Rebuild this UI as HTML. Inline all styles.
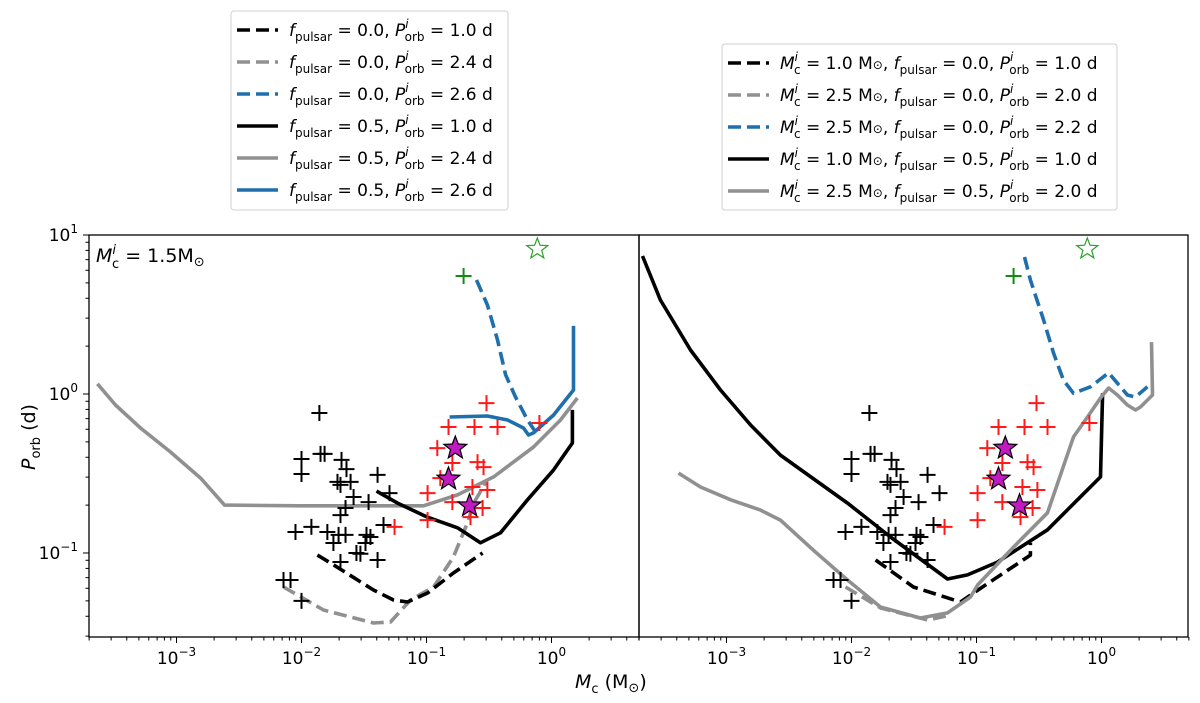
<!DOCTYPE html>
<html><head><meta charset="utf-8">
<style>
html,body{margin:0;padding:0;background:#fff;}
svg{display:block;font-family:"DejaVu Sans","Liberation Sans",sans-serif;}
</style></head>
<body>
<svg id="fig" width="1200" height="703" viewBox="0 0 1200 703" xmlns="http://www.w3.org/2000/svg">
<defs>
<clipPath id="clipL"><rect x="89" y="235" width="550" height="402"/></clipPath>
<clipPath id="clipR"><rect x="639" y="235" width="549" height="402"/></clipPath>
</defs>
<g id="panelL"></g>
<g id="panelR"></g>
<rect x="89" y="235" width="550" height="402" fill="none" stroke="#000" stroke-width="1.3"/>
<rect x="639" y="235" width="549" height="402" fill="none" stroke="#000" stroke-width="1.3"/>
<g id="axes"></g>
<text x="96" y="262" font-size="19"><tspan font-style="italic">M</tspan><tspan font-size="13" dy="-8" font-style="italic">i</tspan><tspan font-size="13" dx="-4" dy="14">c</tspan><tspan dy="-6"> = 1.5M</tspan><tspan font-size="13" dy="4">⊙</tspan></text>
<text x="575" y="688" font-size="19"><tspan font-style="italic">M</tspan><tspan font-size="13" dy="5">c</tspan><tspan dy="-5"> (M</tspan><tspan font-size="13" dy="4">⊙</tspan><tspan dy="-4">)</tspan></text>
<text transform="translate(35,470) rotate(-90)" font-size="19"><tspan font-style="italic">P</tspan><tspan font-size="13" dy="5">orb</tspan><tspan dy="-5"> (d)</tspan></text>
<g id="legendL"></g>
<g id="legendR"></g>
</svg>
<script>
// ---- data (Mc in Msun, Porb in days) ----
const blackObsM=[0.0139,0.010,0.010,0.0142,0.0153,0.0209,0.0229,0.0194,0.0247,0.0205,0.0406,0.0261,0.0344,0.0506,0.0225,0.0205,0.00895,0.012,0.0161,0.0198,0.0225,0.018,0.0331,0.0356,0.0325,0.0453,0.0275,0.0296,0.0406,0.0205,0.00718,0.00817,0.010];
const blackObsP=[0.76,0.39,0.314,0.42,0.42,0.385,0.337,0.28,0.28,0.268,0.31,0.225,0.209,0.238,0.192,0.173,0.1355,0.146,0.1355,0.13,0.13,0.1156,0.13,0.126,0.1156,0.15,0.1,0.099,0.0904,0.0878,0.0676,0.0676,0.05];
const redObsM=[0.302,0.15,0.242,0.37,0.80,0.122,0.161,0.256,0.286,0.129,0.102,0.233,0.307,0.161,0.102,0.0555,0.225,0.281];
const redObsP=[0.877,0.62,0.62,0.62,0.657,0.457,0.368,0.373,0.347,0.296,0.238,0.26,0.249,0.209,0.161,0.146,0.168,0.192];
const starM=[0.17,0.15,0.221];
const starP=[0.457,0.292,0.198];
const greenCrossM=[0.198], greenCrossP=[5.52];
const openStarM=[0.77], openStarP=[8.17];

// left panel tracks
const L_greySolidM=[2.33e-4,3.25e-4,5.15e-4,8.95e-4,1.56e-3,2.42e-3,9.8e-3,0.0946,0.177,0.344,0.718,1.18,1.61];
const L_greySolidP=[1.16,0.853,0.611,0.432,0.296,0.2,0.198,0.198,0.232,0.301,0.464,0.686,0.944];
const L_blackSolidM=[0.0398,0.0586,0.102,0.177,0.27,0.391,0.643,1.04,1.47,1.47];
const L_blackSolidP=[0.245,0.206,0.168,0.144,0.116,0.134,0.216,0.333,0.492,0.794];
const L_blackDashM=[0.0134,0.0171,0.0377,0.0545,0.0705,0.102,0.164,0.281];
const L_blackDashP=[0.097,0.0865,0.0585,0.0506,0.0492,0.056,0.0748,0.1];
const L_greyDashM=[0.00718,0.015,0.0377,0.0515,0.0745,0.114,0.164,0.213,0.238,0.307];
const L_greyDashP=[0.0611,0.0438,0.0363,0.0368,0.0506,0.0611,0.0944,0.155,0.206,0.288];
const L_blueSolidM=[0.153,0.307,0.445,0.597,0.655,0.718,1.04,1.5,1.5];
const L_blueSolidP=[0.717,0.727,0.686,0.611,0.552,0.569,0.738,1.06,2.68];
const L_blueDashM=[0.251,0.307,0.37,0.429,0.515,0.643,0.745];
const L_blueDashP=[5.21,3.63,2.19,1.32,0.957,0.686,0.577];

// right panel tracks
const R_blackSolidM=[2.13e-4,2.96e-4,5.15e-4,8.95e-4,1.56e-3,2.7e-3,9.29e-3,0.0205,0.0586,0.0847,0.147,0.37,0.643,0.982,1.02];
const R_blackSolidP=[7.38,3.9,1.89,1.06,0.638,0.413,0.206,0.126,0.0686,0.0728,0.0877,0.14,0.216,0.301,1.01];
const R_greySolidM=[4.13e-4,6.19e-4,1.08e-3,1.87e-3,2.7e-3,4.97e-3,9.29e-3,0.0171,0.0356,0.0586,0.0895,0.102,0.198,0.37,0.597,0.773,0.982,1.14,1.34,1.61,1.87,2.05,2.56,2.51];
const R_greySolidP=[0.318,0.26,0.216,0.186,0.161,0.104,0.0676,0.0457,0.039,0.042,0.0529,0.0629,0.109,0.179,0.537,0.717,0.944,1.09,0.986,0.853,0.793,0.828,0.986,2.12];
const R_blackDashM=[0.0156,0.0313,0.0745,0.0946,0.27,0.27];
const R_blackDashP=[0.0904,0.0611,0.0492,0.056,0.097,0.116];
const R_greyDashM=[0.00895,0.0171,0.0406,0.0619];
const R_greyDashP=[0.0611,0.0451,0.0379,0.0407];
const R_blueDashM=[0.242,0.27,0.344,0.413,0.497,0.597,0.817,1.14,1.34,1.61,1.87,2.33];
const R_blueDashP=[7.27,5.21,2.92,1.81,1.22,1.01,1.11,1.36,1.17,0.986,0.957,1.11];

const xTickExps=[-3,-2,-1,0];
const yTickExps=[1,0,-1];

// ---- axes ----
const NS="http://www.w3.org/2000/svg";
const LOGX0=-3.7, DEC_X=125, Y_TOP=235, LOGY_TOP=1, DEC_Y=159;
function xScale(m,x0){return x0+(Math.log10(m)-LOGX0)*DEC_X;}
function yScale(p){return Y_TOP+(LOGY_TOP-Math.log10(p))*DEC_Y;}
function mk(tag,attrs,parent){const e=document.createElementNS(NS,tag);for(const k in attrs)e.setAttribute(k,attrs[k]);parent.appendChild(e);return e;}

const BLK="#000", GRY="#909090", BLU="#1f6fad";
function drawLine(g,x0,M,P,color,dashed,name){
  let d="";
  for(let i=0;i<M.length;i++){d+=(i?"L":"M")+xScale(M[i],x0).toFixed(1)+","+yScale(P[i]).toFixed(1);}
  const p=mk("path",{d:d,fill:"none",stroke:color,"stroke-width":3.6,"stroke-linejoin":"round"},g);
  if(dashed)p.setAttribute("stroke-dasharray","13,6");
  
  
}
function drawPlus(g,x0,M,P,color,name){
  for(let i=0;i<M.length;i++){
    const x=xScale(M[i],x0), y=yScale(P[i]);
    const p=mk("path",{d:`M${x-8},${y}H${x+8}M${x},${y-8}V${y+8}`,stroke:color,"stroke-width":2},g);
    
    
  }
}
function starPath(cx,cy,R){
  const r=R*0.42;let d="";
  for(let i=0;i<10;i++){const a=-Math.PI/2+i*Math.PI/5;const rr=i%2?r:R;d+=(i?"L":"M")+(cx+rr*Math.cos(a)).toFixed(1)+","+(cy+rr*Math.sin(a)).toFixed(1);}
  return d+"Z";
}
function drawStars(g,x0,M,P,fill,stroke,R,name){
  for(let i=0;i<M.length;i++){
    const s=mk("path",{d:starPath(xScale(M[i],x0),yScale(P[i]),R),fill:fill,stroke:stroke,"stroke-width":1.2},g);
    
    
  }
}
function drawObs(g,x0){
  drawPlus(g,x0,blackObsM,blackObsP,"#000","black-observed-point");
  drawPlus(g,x0,redObsM,redObsP,"#ff1a1a","red-observed-point");
  drawStars(g,x0,starM,starP,"#c219c2","#000",12,"magenta-star");
  drawPlus(g,x0,greenCrossM,greenCrossP,"#138a13","green-cross-point");
  drawStars(g,x0,openStarM,openStarP,"none","#2ca02c",11,"open-green-star");
}
// left panel
const gL=mk("g",{"clip-path":"url(#clipL)"},document.getElementById("panelL"));
const XL=89, XR=639;
drawLine(gL,XL,L_greySolidM,L_greySolidP,GRY,false,"track-f05-p24");
drawLine(gL,XL,L_greyDashM,L_greyDashP,GRY,true,"track-f00-p24");
drawLine(gL,XL,L_blackDashM,L_blackDashP,BLK,true,"track-f00-p10");
drawLine(gL,XL,L_blackSolidM,L_blackSolidP,BLK,false,"track-f05-p10");
drawLine(gL,XL,L_blueDashM,L_blueDashP,BLU,true,"track-f00-p26");
drawLine(gL,XL,L_blueSolidM,L_blueSolidP,BLU,false,"track-f05-p26");
drawObs(gL,XL);
// right panel
const gR=mk("g",{"clip-path":"url(#clipR)"},document.getElementById("panelR"));
drawLine(gR,XR,R_blackSolidM,R_blackSolidP,BLK,false,"track-m10-f05");
drawLine(gR,XR,R_blackDashM,R_blackDashP,BLK,true,"track-m10-f00");
drawLine(gR,XR,R_greyDashM,R_greyDashP,GRY,true,"track-m25-f00-p20");
drawLine(gR,XR,R_blueDashM,R_blueDashP,BLU,true,"track-m25-f00-p22");
drawLine(gR,XR,R_greySolidM,R_greySolidP,GRY,false,"track-m25-f05");
drawObs(gR,XR);

// ticks
const ax=document.getElementById("axes");
[XL,XR].forEach((x0,pi)=>{
  for(let e=-4;e<=0;e++){
    for(let k=1;k<10;k++){
      const v=k*Math.pow(10,e); const lg=Math.log10(v);
      if(lg<LOGX0||lg>0.7)continue;
      const x=xScale(v,x0);
      const len=(k===1)?6:3.5;
      const t=mk("line",{x1:x,x2:x,y1:637,y2:637+len,stroke:"#000","stroke-width":1},ax);
      
      
    }
  }
  xTickExps.forEach(e=>{
    const x=xScale(Math.pow(10,e),x0);
    const t=mk("text",{x:x,y:664,"font-size":17,"text-anchor":"middle"},ax);
    
    
    t.innerHTML=`10<tspan font-size="12" dy="-8">${e<0?'−'+(-e):e}</tspan>`;
  });
});
for(let e=-2;e<=0;e++){
  for(let k=1;k<10;k++){
    const v=k*Math.pow(10,e); const y=yScale(v);
    if(y<235||y>637.5)continue;
    const t=mk("line",{x1:89,x2:89-(k===1?6:3.5),y1:y,y2:y,stroke:"#000","stroke-width":1},ax);
    
    
  }
}
{const t=mk("line",{x1:83,x2:89,y1:235,y2:235,stroke:"#000","stroke-width":1},ax);

}
yTickExps.forEach(e=>{
  const y=yScale(Math.pow(10,e));
  const t=mk("text",{x:78,y:y+6,"font-size":17,"text-anchor":"end"},ax);
  
  
  t.innerHTML=`10<tspan font-size="12" dy="-8">${e<0?'−'+(-e):e}</tspan>`;
});

// legends
function legend(gid,box,rows){
  const g=document.getElementById(gid);
  mk("rect",{x:box[0],y:box[1],width:box[2],height:box[3],rx:3,fill:"#fff",stroke:"#d0d0d0","stroke-width":1},g);
  rows.forEach(r=>{
    const en=mk("g",{},g);
    
    
    const l=mk("line",{x1:box[0]+6,x2:box[0]+47,y1:r.y,y2:r.y,stroke:r.c,"stroke-width":3.6},en);
    if(r.d)l.setAttribute("stroke-dasharray","13,6");
    const t=mk("text",{x:box[0]+58,y:r.y+6,"font-size":17},en);
    t.innerHTML=r.t;
  });
}
const F=v=>`<tspan font-style="italic">f</tspan><tspan font-size="12" dy="5">pulsar</tspan><tspan dy="-5"> = ${v}, </tspan>`;
const P=v=>`<tspan font-style="italic">P</tspan><tspan font-size="12" font-style="italic" dy="-8">i</tspan><tspan font-size="12" dx="-4" dy="13">orb</tspan><tspan dy="-5"> = ${v} d</tspan>`;
const M=v=>`<tspan font-style="italic">M</tspan><tspan font-size="12" font-style="italic" dy="-8">i</tspan><tspan font-size="12" dx="-4" dy="13">c</tspan><tspan dy="-5"> = ${v} M</tspan><tspan font-size="12">⊙</tspan><tspan>, </tspan>`;
legend("legendL",[231,11,277,199],[
 {y:30,c:BLK,d:true,t:F("0.0")+P("1.0")},
 {y:62,c:GRY,d:true,t:F("0.0")+P("2.4")},
 {y:94,c:BLU,d:true,t:F("0.0")+P("2.6")},
 {y:126,c:BLK,d:false,t:F("0.5")+P("1.0")},
 {y:158,c:GRY,d:false,t:F("0.5")+P("2.4")},
 {y:190,c:BLU,d:false,t:F("0.5")+P("2.6")}]);
legend("legendR",[722,44,395,166],[
 {y:63,c:BLK,d:true,t:M("1.0")+F("0.0")+P("1.0")},
 {y:95,c:GRY,d:true,t:M("2.5")+F("0.0")+P("2.0")},
 {y:127,c:BLU,d:true,t:M("2.5")+F("0.0")+P("2.2")},
 {y:159,c:BLK,d:false,t:M("1.0")+F("0.5")+P("1.0")},
 {y:191,c:GRY,d:false,t:M("2.5")+F("0.5")+P("2.0")}]);
</script>
</body></html>
